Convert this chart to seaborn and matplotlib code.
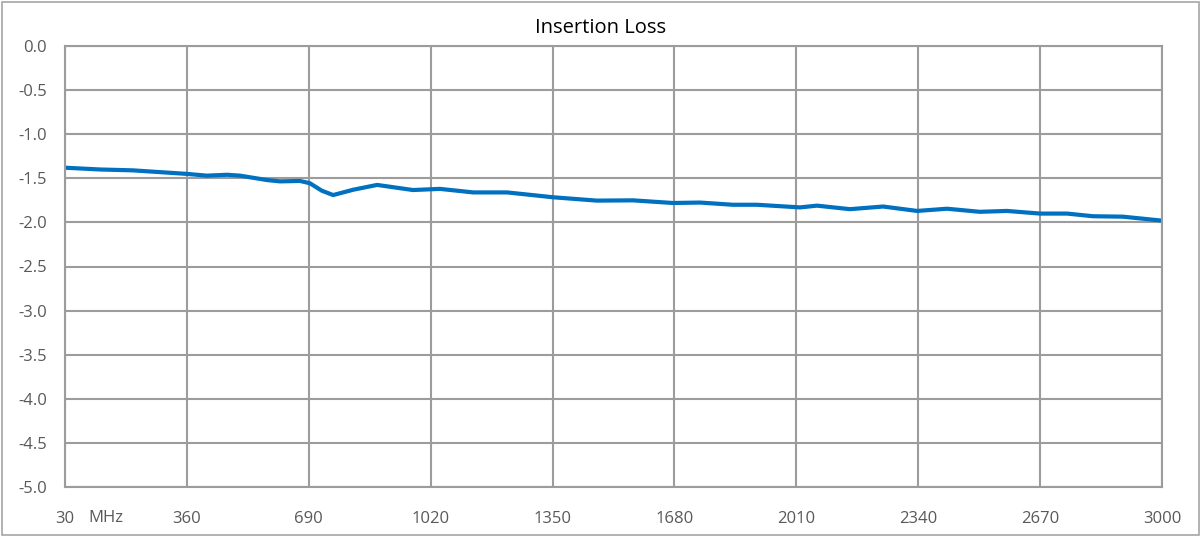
import numpy as np
import pandas as pd
import seaborn as sns
import matplotlib.pyplot as plt
from matplotlib.patches import Rectangle
from matplotlib.transforms import blended_transform_factory

freq_mhz = [30, 125, 214, 360, 414, 469, 504, 577, 612, 666, 693, 725, 756, 810, 875,
            972, 1045, 1135, 1227, 1351, 1470, 1568, 1676, 1749, 1838, 1903, 2020,
            2066, 2155, 2245, 2337, 2418, 2507, 2580, 2670, 2743, 2813, 2894, 3000]
loss_db = [-1.38, -1.40, -1.41, -1.45, -1.47, -1.46, -1.47, -1.52, -1.535, -1.53, -1.556, -1.64, -1.69, -1.63, -1.575,
           -1.633, -1.62, -1.66, -1.66, -1.715, -1.753, -1.75, -1.78, -1.775, -1.80, -1.80, -1.83,
           -1.81, -1.85, -1.82, -1.87, -1.845, -1.88, -1.87, -1.90, -1.90, -1.93, -1.935, -1.98]
x_ticks = [30, 360, 690, 1020, 1350, 1680, 2010, 2340, 2670, 3000]
y_ticks = [0.0, -0.5, -1.0, -1.5, -2.0, -2.5, -3.0, -3.5, -4.0, -4.5, -5.0]

df = pd.DataFrame({"freq": freq_mhz, "loss": loss_db})

sns.set_style("white")
plt.rcParams['font.family'] = ['Open Sans', 'DejaVu Sans']

fig = plt.figure(figsize=(12.01, 5.37), dpi=100)
ax = fig.add_axes([65 / 1201, 1 - 487 / 537, 1097 / 1201, 441 / 537])

sns.lineplot(data=df, x="freq", y="loss", ax=ax, color="#0070C0", linewidth=3)
ax.lines[0].set_solid_joinstyle("round")
ax.lines[0].set_solid_capstyle("round")

grid_c = "#9C9C9C"
ax.set_xlim(30, 3000)
ax.set_ylim(-5, 0)
ax.set_xticks(x_ticks)
ax.set_yticks(y_ticks)
ax.set_xticklabels([str(t) for t in x_ticks])
ax.set_yticklabels([f"{t:.1f}" for t in y_ticks])
ax.grid(True, color=grid_c, linewidth=1.5)
ax.set_axisbelow(True)
for s in ax.spines.values():
    s.set_color(grid_c)
    s.set_linewidth(1.5)
ax.tick_params(axis="x", length=0, pad=17, labelsize=12, labelcolor="#595959")
ax.tick_params(axis="y", length=0, pad=13, labelsize=12, labelcolor="#595959")
ax.set_xlabel("")
ax.set_ylabel("")

trans = blended_transform_factory(ax.transData, ax.transAxes)
ax.text(92, -0.07, "MHz", transform=trans, ha="left", va="center",
        fontsize=12, color="#595959")

fig.text(0.5, 1 - 28 / 537, "Insertion Loss", ha="center", va="center",
         fontsize=14.5, color="#000000")

fig.patches.append(Rectangle((0.002, 0.003), 0.996, 0.994, transform=fig.transFigure,
                             fill=False, edgecolor="#A6A6A6", linewidth=1.2))

fig.savefig("out.png", dpi=100)
